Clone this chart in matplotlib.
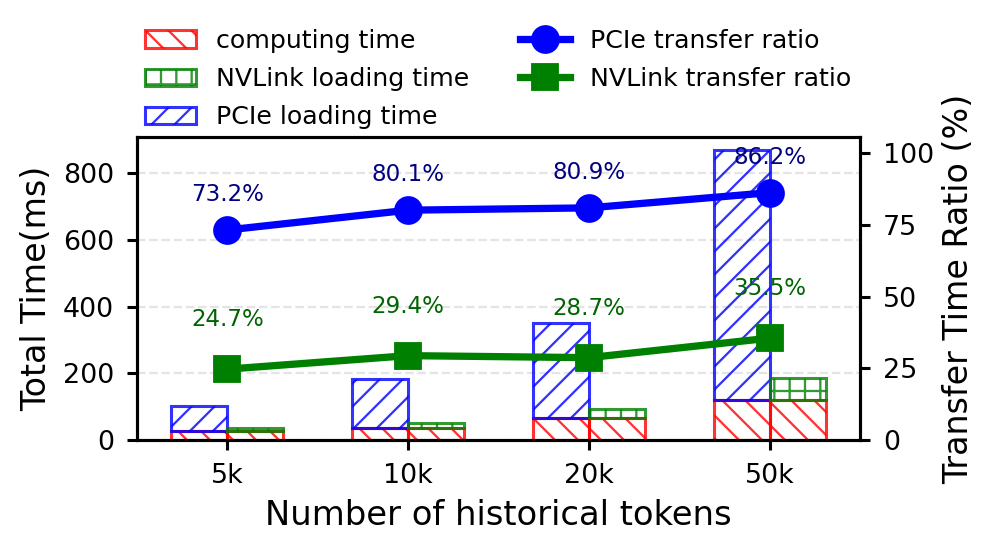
import matplotlib
matplotlib.use("Agg")
import matplotlib.pyplot as plt
import numpy as np

categories = ["5k", "10k", "20k", "50k"]
computing_time = [27, 36, 67, 120]
pcie_loading = [75, 146, 285, 750]
nvlink_loading = [9, 15, 27, 66]
pcie_ratio = [73.2, 80.1, 80.9, 86.2]
nvlink_ratio = [24.7, 29.4, 28.7, 35.5]

plt.rcParams['hatch.linewidth'] = 0.6
DPI = 276
fig = plt.figure(figsize=(997 / DPI, 552 / DPI), dpi=DPI)
ax1 = fig.add_axes([0.1374, 0.2029, 0.7252, 0.5489])
ax2 = ax1.twinx()

x = np.arange(len(categories))
w = 0.31
a = 0.8
ec_lw = 0.8

# PCIe bars (left)
ax1.bar(x - w / 2, computing_time, w, fill=False, edgecolor='red', hatch='\\' * 4,
        alpha=a, linewidth=ec_lw, label='computing time')
ax1.bar(x - w / 2, pcie_loading, w, bottom=computing_time, fill=False, edgecolor='blue',
        hatch='/' * 4, alpha=a, linewidth=ec_lw, label='PCIe loading time')
# NVLink bars (right)
ax1.bar(x + w / 2, computing_time, w, fill=False, edgecolor='red', hatch='\\' * 4,
        alpha=a, linewidth=ec_lw)
ax1.bar(x + w / 2, nvlink_loading, w, bottom=computing_time, fill=False, edgecolor='green',
        hatch='+++', alpha=a, linewidth=ec_lw, label='NVLink loading time')

ax1.set_xlim(-0.5, len(categories) - 0.5)
totals = [c + p for c, p in zip(computing_time, pcie_loading)]
ax1.set_ylim(0, max(totals) * 1.044)
ax1.set_yticks([0, 200, 400, 600, 800])
ax1.set_xticks(x)
ax1.set_xticklabels(categories)
ax1.yaxis.grid(True, linestyle='--', color='lightgray', alpha=0.6, linewidth=0.6)
ax1.set_axisbelow(True)
ax1.tick_params(labelsize=7, length=2.5)
ax1.set_xlabel("Number of historical tokens", fontsize=8.8, labelpad=2.5)
ax1.set_ylabel("Total Time(ms)", fontsize=8.7, labelpad=2.5)

ax2.plot(x, pcie_ratio, color='blue', marker='o', linewidth=1.9, markersize=6.5, label='PCIe transfer ratio')
ax2.plot(x, nvlink_ratio, color='green', marker='s', linewidth=1.9, markersize=6.5, label='NVLink transfer ratio')
ax2.set_ylim(0, 105.6)
ax2.set_yticks([0, 25, 50, 75, 100])
ax2.tick_params(labelsize=7, length=2.5)
ax2.set_ylabel("Transfer Time Ratio (%)", fontsize=8.7, labelpad=2)

for xi, v in zip(x, pcie_ratio):
    ax2.text(xi, v + 12.3, f"{v}%", ha='center', va='center', color='navy', fontsize=6)
for xi, v in zip(x, nvlink_ratio):
    ax2.text(xi, v + 17.2, f"{v}%", ha='center', va='center', color='darkgreen', fontsize=6)

h1, l1 = ax1.get_legend_handles_labels()
order = [0, 2, 1]
h1 = [h1[i] for i in order]
l1 = [l1[i] for i in order]
h2, l2 = ax2.get_legend_handles_labels()
ax1.legend(h1 + h2, l1 + l2, ncol=2, frameon=False, fontsize=6.6,
           loc='lower left', bbox_to_anchor=(-0.01, 0.975), labelspacing=0.56,
           columnspacing=2.0, borderaxespad=0.2)

fig.savefig("out.png", dpi=DPI)
